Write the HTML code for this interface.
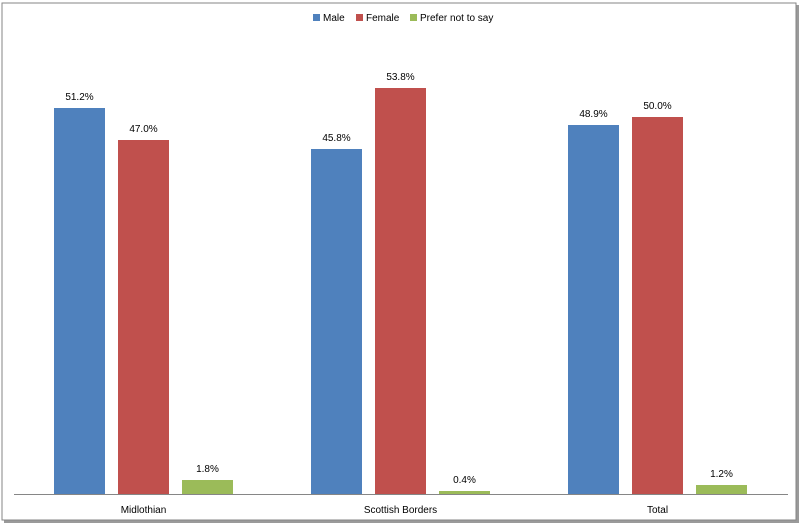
<!DOCTYPE html>
<html><head><style>
body{margin:0;background:#fff;}
svg{display:block;font-family:"Liberation Sans",sans-serif;}
</style></head><body>
<svg width="800" height="526" viewBox="0 0 800 526">
<rect x="0" y="0" width="800" height="526" fill="#fff"/>
<rect x="4" y="5" width="795" height="518" fill="#9a9a9a"/>
<rect x="2" y="3" width="794" height="517" fill="#fff" stroke="#868686" stroke-width="1"/>
<g font-size="10" fill="#000">
<rect x="313" y="14" width="7" height="7" fill="#4f81bd"/><text x="323" y="21">Male</text>
<rect x="356" y="14" width="7" height="7" fill="#c0504d"/><text x="366" y="21">Female</text>
<rect x="410" y="14" width="7" height="7" fill="#9bbb59"/><text x="420" y="21">Prefer not to say</text>
</g>
<line x1="14" y1="494.5" x2="788" y2="494.5" stroke="#868686"/>
<g>
<rect x="54" y="108" width="51" height="386" fill="#4f81bd"/>
<rect x="118" y="140" width="51" height="354" fill="#c0504d"/>
<rect x="182" y="480" width="51" height="14" fill="#9bbb59"/>
<rect x="311" y="149" width="51" height="345" fill="#4f81bd"/>
<rect x="375" y="88" width="51" height="406" fill="#c0504d"/>
<rect x="439" y="491" width="51" height="3" fill="#9bbb59"/>
<rect x="568" y="125" width="51" height="369" fill="#4f81bd"/>
<rect x="632" y="117" width="51" height="377" fill="#c0504d"/>
<rect x="696" y="485" width="51" height="9" fill="#9bbb59"/>
</g>
<g font-size="10" fill="#000" text-anchor="middle">
<text x="79.5" y="100">51.2%</text>
<text x="143.5" y="132">47.0%</text>
<text x="207.5" y="472">1.8%</text>
<text x="336.5" y="141">45.8%</text>
<text x="400.5" y="80">53.8%</text>
<text x="464.5" y="483">0.4%</text>
<text x="593.5" y="117">48.9%</text>
<text x="657.5" y="109">50.0%</text>
<text x="721.5" y="477">1.2%</text>
<text x="143.5" y="513">Midlothian</text>
<text x="400.5" y="513">Scottish Borders</text>
<text x="657.5" y="513">Total</text>
</g>
</svg>
</body></html>
